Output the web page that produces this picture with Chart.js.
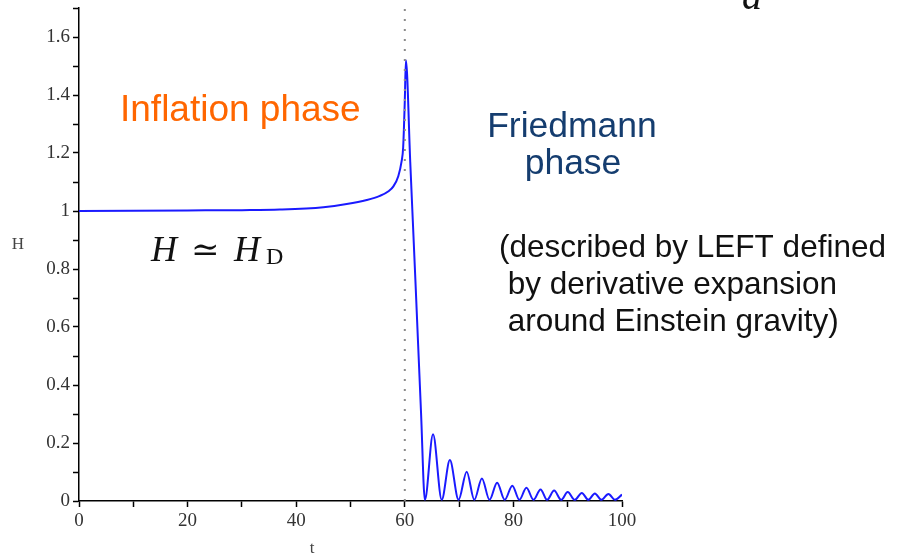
<!DOCTYPE html>
<html>
<head>
<meta charset="utf-8">
<script src="https://cdn.jsdelivr.net/npm/chart.js@4/dist/chart.umd.min.js"></script>
<style>
  html, body { margin: 0; padding: 0; background: #fff; }
  #wrap { width: 900px; height: 556px; position: relative; }
</style>
</head>
<body>
<div id="wrap"><canvas id="chart"></canvas></div>
<script>
// H(t): slow inflation rise, spike at t~60, then damped oscillation
const tValues = [
  0, 10, 20, 30, 37, 45, 49.3, 53, 55.4, 57, 57.9, 58.8, 59.4, 59.7, 60.0, 60.2,
  61.0, 62.0, 63.0, 63.7,
  65.2, 66.8, 68.3, 69.9, 71.4, 72.8, 74.2, 75.6, 77.0, 78.4, 79.8, 81.1,
  82.4, 83.7, 85.0, 86.2, 87.5, 88.8, 90.0, 91.3, 92.6, 93.8, 95.0, 96.2,
  97.5, 98.7, 100
];
const hValues = [
  1.0, 1.001, 1.002, 1.003, 1.005, 1.013, 1.024, 1.038, 1.052, 1.068, 1.085, 1.12, 1.17, 1.22, 1.38, 1.52,
  1.17, 0.74, 0.30, 0.004,
  0.23, 0.004, 0.141, 0.004, 0.101, 0.004, 0.078, 0.004, 0.063, 0.004, 0.053, 0.004,
  0.046, 0.004, 0.040, 0.004, 0.036, 0.004, 0.031, 0.004, 0.028, 0.004, 0.026, 0.004,
  0.024, 0.004, 0.022
];
const markerT = 60;
const xTicks = { min: 0, max: 100, step: 10 };
const yTicks = { min: 0, max: 1.7, step: 0.1 };

const curve = tValues.map((t, i) => ({ x: t, y: hValues[i] }));
const marker = [{ x: markerT, y: yTicks.min }, { x: markerT, y: yTicks.max }];

const annotations = {
  id: "annotations",
  afterDraw(chart) {
    const ctx = chart.ctx;
    ctx.save();
    ctx.textBaseline = "alphabetic";

    ctx.fillStyle = "#ff6600";
    ctx.font = "37px 'Liberation Sans', Arial, sans-serif";
    ctx.textAlign = "left";
    ctx.fillText("Inflation phase", 120, 121);

    ctx.fillStyle = "#153d6f";
    ctx.font = "35.5px 'Liberation Sans', Arial, sans-serif";
    ctx.textAlign = "center";
    ctx.fillText("Friedmann", 572, 137);
    ctx.fillText("phase", 573, 174);

    ctx.fillStyle = "#111";
    ctx.font = "31.5px 'Liberation Sans', Arial, sans-serif";
    ctx.textAlign = "left";
    ctx.fillText("(described by LEFT defined", 499, 257);
    ctx.fillText(" by derivative expansion", 499, 294);
    ctx.fillText(" around Einstein gravity)", 499, 331);

    // H ≃ H_D
    ctx.fillStyle = "#111";
    ctx.font = "italic 36px 'Liberation Serif', 'Times New Roman', serif";
    ctx.fillText("H", 151, 261);
    ctx.font = "34px 'DejaVu Serif', serif";
    ctx.fillText("\u2243", 191, 261);
    ctx.font = "italic 36px 'Liberation Serif', 'Times New Roman', serif";
    ctx.fillText("H", 234, 261);
    ctx.font = "24px 'Liberation Serif', 'Times New Roman', serif";
    ctx.fillText("D", 266, 264);

    ctx.font = "italic 40px 'Liberation Serif', 'Times New Roman', serif";
    ctx.fillText("a", 742, 9);

    // axis names
    ctx.fillStyle = "#444";
    ctx.font = "17px 'Liberation Serif', 'Times New Roman', serif";
    ctx.textAlign = "center";
    ctx.fillText("H", 18, 249);
    ctx.fillText("t", 312, 553);
    ctx.restore();
  }
};

new Chart(document.getElementById("chart"), {
  type: "scatter",
  data: {
    datasets: [
      {
        data: marker,
        showLine: true,
        borderColor: "#8a8a8a",
        borderWidth: 2,
        borderDash: [2, 8],
        pointRadius: 0
      },
      {
        data: curve,
        showLine: true,
        borderColor: "#1a1aff",
        borderWidth: 2,
        pointRadius: 0,
        cubicInterpolationMode: "monotone"
      }
    ]
  },
  options: {
    responsive: true,
    maintainAspectRatio: false,
    animation: false,
    layout: { padding: { left: 0, top: 8, right: 278, bottom: 0 } },
    plugins: {
      legend: { display: false },
      tooltip: { enabled: false }
    },
    scales: {
      x: {
        type: "linear",
        min: xTicks.min,
        max: xTicks.max,
        afterFit(scale) { scale.height = 55; },
        border: { color: "#000", width: 1.5 },
        grid: { drawOnChartArea: false, tickLength: 6, tickColor: "#000", tickWidth: 1.5 },
        ticks: {
          stepSize: xTicks.step,
          autoSkip: false,
          maxRotation: 0,
          padding: 3,
          color: "#333",
          font: { family: "'Liberation Serif', 'Times New Roman', serif", size: 19 },
          callback: (v) => (Math.round(v) % 20 === 0 ? String(v) : "")
        }
      },
      y: {
        min: yTicks.min,
        max: yTicks.max,
        afterFit(scale) {
          scale.width = 79;
          scale.paddingTop = 0;
          scale.paddingBottom = 0;
        },
        border: { color: "#000", width: 1.5 },
        grid: { drawOnChartArea: false, tickLength: 6, tickColor: "#000", tickWidth: 1.5 },
        ticks: {
          stepSize: yTicks.step,
          autoSkip: false,
          padding: 3,
          color: "#333",
          font: { family: "'Liberation Serif', 'Times New Roman', serif", size: 19 },
          callback: (v) => {
            const k = Math.round(v * 10);
            if (k % 2 !== 0 || k > 16) return "";
            return String(k / 10);
          }
        }
      }
    }
  },
  plugins: [annotations]
});
</script>
</body>
</html>
